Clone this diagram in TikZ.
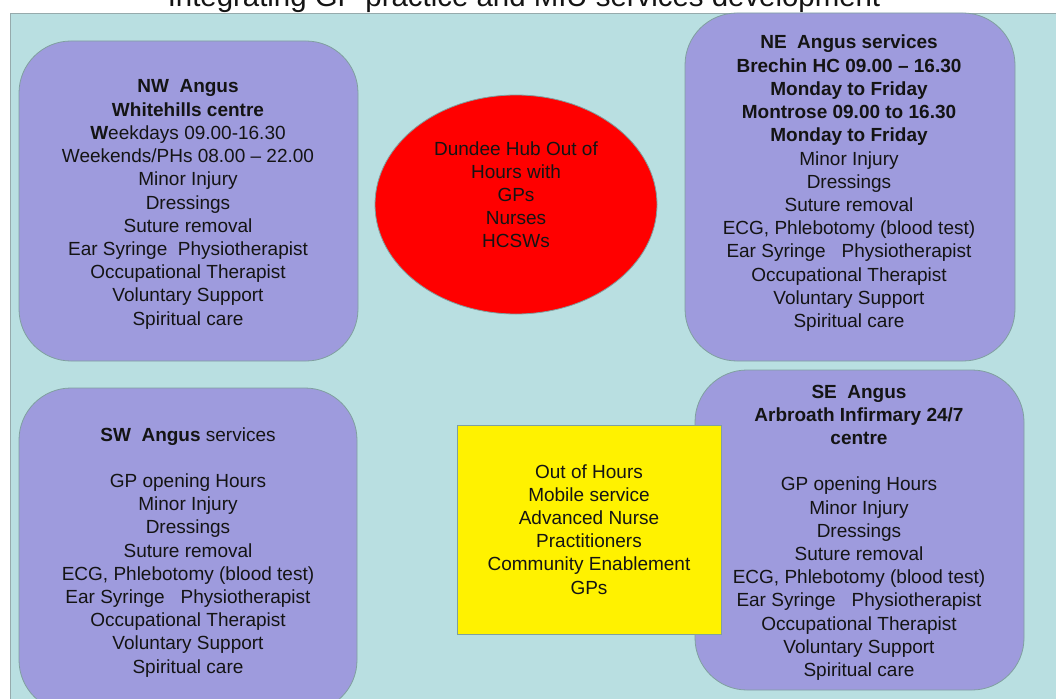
\documentclass[tikz,border=0pt]{standalone}
\usepackage{fontspec}
\setmainfont{Liberation Sans}
\usetikzlibrary{shapes.geometric}
\definecolor{bgteal}{RGB}{185,223,225}
\definecolor{lav}{RGB}{158,155,221}
\definecolor{edgegray}{RGB}{128,160,160}
\definecolor{framegray}{RGB}{150,170,172}
\definecolor{txt}{RGB}{20,20,20}
\newcommand{\txtlines}[1]{\begin{tabular}[t]{@{}c@{}}#1\end{tabular}}
\tikzset{
  rbox/.style={draw=edgegray, line width=0.8pt, fill=lav, rounded corners=52pt, inner sep=0pt},
  body/.style={anchor=base, inner sep=0pt, text=txt, font=\fontsize{19}{23.2}\selectfont},
}
\begin{document}
\begin{tikzpicture}[x=1pt,y=-1pt]
\useasboundingbox (0,0) rectangle (1056,698);
\clip (0,0) rectangle (1056,698);
\fill[white] (0,0) rectangle (1056,698);
% title
\node[anchor=base, inner sep=0pt, text=txt, font=\fontsize{29.4}{34}\selectfont] (title) at (524,7) {Integrating GP practice and MIU services development};
% background panel
\fill[bgteal] (10,13) rectangle (1070,720);
\draw[framegray, line width=0.8pt] (10,720) -- (10,13) -- (1070,13);
% shapes
\node[rbox, minimum width=339pt, minimum height=320pt] (nw) at (188.5,201) {};
\node[rbox, minimum width=330pt, minimum height=348pt] (ne) at (850,187) {};
\node[rbox, minimum width=338pt, minimum height=324pt] (sw) at (188,550) {};
\node[rbox, minimum width=329pt, minimum height=320pt] (se) at (859.5,530) {};
\node[ellipse, draw=edgegray, line width=0.8pt, fill=red, minimum width=282pt, minimum height=219pt, inner sep=0pt] (hub) at (516,204.5) {};
\node[rectangle, draw=edgegray, line width=0.8pt, fill=yellow, minimum width=264pt, minimum height=209pt, inner sep=0pt] (mob) at (589,529.5) {};
% texts
\node[body] (nwt) at (188,93) {\txtlines{\textbf{NW\ \ Angus}\\ \textbf{Whitehills centre}\\ \textbf{W}eekdays 09.00-16.30\\ Weekends/PHs 08.00 -- 22.00\\ Minor Injury\\ Dressings\\ Suture removal\\ Ear Syringe\ \ Physiotherapist\\ Occupational Therapist\\ Voluntary Support\\ Spiritual care}};
\node[body] (net) at (849,49) {\txtlines{\textbf{NE\ \ Angus services}\\ \textbf{Brechin HC 09.00 -- 16.30}\\ \textbf{Monday to Friday}\\ \textbf{Montrose 09.00 to 16.30}\\ \textbf{Monday to Friday}\\ Minor Injury\\ Dressings\\ Suture removal\\ ECG, Phlebotomy (blood test)\\ Ear Syringe\ \ \ Physiotherapist\\ Occupational Therapist\\ Voluntary Support\\ Spiritual care}};
\node[body] (swt) at (188,441) {\txtlines{\textbf{SW\ \ Angus} services\\ \\ GP opening Hours\\ Minor Injury\\ Dressings\\ Suture removal\\ ECG, Phlebotomy (blood test)\\ Ear Syringe\ \ \ Physiotherapist\\ Occupational Therapist\\ Voluntary Support\\ Spiritual care}};
\node[body] (set) at (859,398) {\txtlines{\textbf{SE\ \ Angus}\\ \textbf{Arbroath Infirmary 24/7}\\ \textbf{centre}\\ \\ GP opening Hours\\ Minor Injury\\ Dressings\\ Suture removal\\ ECG, Phlebotomy (blood test)\\ Ear Syringe\ \ \ Physiotherapist\\ Occupational Therapist\\ Voluntary Support\\ Spiritual care}};
\node[body] (hubt) at (516,155) {\txtlines{Dundee Hub Out of\\ Hours with\\ GPs\\ Nurses\\ HCSWs}};
\node[body] (mobt) at (589,478) {\txtlines{Out of Hours\\ Mobile service\\ Advanced Nurse\\ Practitioners\\ Community Enablement\\ GPs}};
\end{tikzpicture}
\end{document}
